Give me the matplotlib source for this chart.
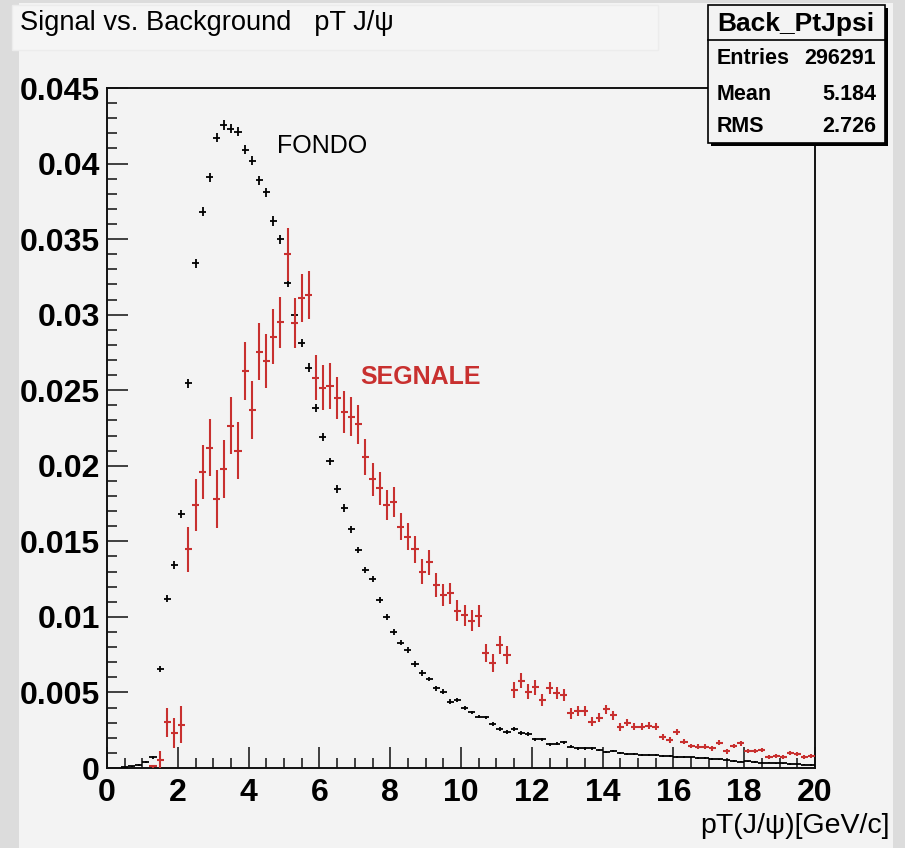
import numpy as np
import matplotlib.pyplot as plt
from matplotlib.patches import Rectangle
from matplotlib.ticker import MultipleLocator, FuncFormatter

# pT(J/psi) histograms, 100 bins of 0.2 GeV/c from 0 to 20, normalised to unit area
bin_centers = np.arange(0.1, 20.0, 0.2)

# background (FONDO)
bkg = [
    0.0, 0.0, 0.00005, 0.0001, 0.0002, 0.0004, 0.0007, 0.00655, 0.0112, 0.01345,
    0.0168, 0.02546, 0.0334, 0.0368, 0.0391, 0.0417, 0.04255, 0.0423, 0.0421, 0.0409,
    0.0402, 0.0389, 0.0381, 0.0362, 0.0350, 0.0321, 0.0300, 0.0281, 0.0265, 0.0238,
    0.0219, 0.0203, 0.01846, 0.0172, 0.0158, 0.0144, 0.0131, 0.01249, 0.0111, 0.00997,
    0.0090, 0.0083, 0.0078, 0.00688, 0.0063, 0.0059, 0.00527, 0.00505, 0.0044, 0.0045,
    0.00395, 0.00368, 0.0034, 0.00335, 0.0029, 0.0026, 0.0024, 0.0026, 0.0023, 0.00225,
    0.0019, 0.0019, 0.00157, 0.0016, 0.0017, 0.0014, 0.0013, 0.0013, 0.0013, 0.0012,
    0.00105, 0.0011, 0.0010, 0.00092, 0.0009, 0.00086, 0.00088, 0.00084, 0.0008, 0.0008,
    0.00072, 0.00074, 0.0007, 0.00066, 0.00068, 0.0006, 0.00057, 0.0005, 0.00045, 0.00042,
    0.00044, 0.0004, 0.00036, 0.00035, 0.0003, 0.0003, 0.00026, 0.00024, 0.00022, 0.0002,
]
bkg_err = [
    0.0, 0.0, 0.00003, 0.00004, 0.00005, 0.00006, 0.0001, 0.0002, 0.00024, 0.00026,
    0.00027, 0.00028, 0.0003, 0.0003, 0.0003, 0.0003, 0.0003, 0.0003, 0.0003, 0.0003,
    0.0003, 0.0003, 0.0003, 0.0003, 0.0003, 0.00027, 0.00027, 0.00027, 0.00027, 0.00027,
    0.00024, 0.00024, 0.00024, 0.00024, 0.00024, 0.0002, 0.0002, 0.0002, 0.0002, 0.0002,
    0.00018, 0.00018, 0.00018, 0.00018, 0.00018, 0.00015, 0.00015, 0.00015, 0.00015, 0.00015,
    0.00012, 0.00012, 0.00012, 0.00012, 0.00012, 0.00012, 0.00012, 0.00012, 0.00012, 0.00012,
    0.00009, 0.00009, 0.00009, 0.00009, 0.00009, 0.00009, 0.00009, 0.00009, 0.00009, 0.00009,
    0.00006, 0.00006, 0.00006, 0.00006, 0.00006, 0.00006, 0.00006, 0.00006, 0.00006, 0.00006,
    0.00006, 0.00006, 0.00006, 0.00006, 0.00006, 0.00005, 0.00005, 0.00005, 0.00005, 0.00005,
    0.00005, 0.00005, 0.00005, 0.00005, 0.00005, 0.00005, 0.00005, 0.00005, 0.00005, 0.00005,
]

# signal (SEGNALE)
sig = [
    0.0, 0.0, 0.0, 0.0, 0.0, 0.0, 0.0001, 0.00053, 0.00302, 0.00234,
    0.00287, 0.01447, 0.0174, 0.0196, 0.0212, 0.0178, 0.0198, 0.02265, 0.0210, 0.02627,
    0.0237, 0.02755, 0.02695, 0.02855, 0.0295, 0.0340, 0.02943, 0.0311, 0.0313, 0.02583,
    0.02517, 0.02528, 0.02447, 0.02356, 0.02324, 0.02275, 0.0206, 0.0191, 0.0185, 0.0174,
    0.01762, 0.01597, 0.0153, 0.01447, 0.0130, 0.0136, 0.0121, 0.01145, 0.01156, 0.0104,
    0.0101, 0.00975, 0.01006, 0.00759, 0.00693, 0.00814, 0.00748, 0.00516, 0.00578, 0.00505,
    0.00534, 0.0045, 0.00527, 0.00498, 0.00483, 0.00362, 0.00377, 0.00376, 0.00306, 0.00333,
    0.00388, 0.0035, 0.00273, 0.0030, 0.00273, 0.00273, 0.0028, 0.00273, 0.00207, 0.00185,
    0.0024, 0.00174, 0.00146, 0.0014, 0.0014, 0.0013, 0.00168, 0.0011, 0.00146, 0.00163,
    0.0011, 0.00113, 0.0012, 0.00075, 0.0008, 0.00075, 0.0010, 0.0009, 0.0007, 0.0008,
]
sig_err = [
    0.0, 0.0, 0.0, 0.0, 0.0, 0.0, 0.0001, 0.0006, 0.00096, 0.0010,
    0.0012, 0.0015, 0.0017, 0.0018, 0.0019, 0.0019, 0.0019, 0.0019, 0.0019, 0.0019,
    0.0019, 0.0019, 0.0018, 0.0018, 0.0017, 0.00175, 0.00165, 0.0016, 0.0016, 0.0015,
    0.0015, 0.0015, 0.0014, 0.0014, 0.0013, 0.0013, 0.0012, 0.0011, 0.0011, 0.0010,
    0.0010, 0.0009, 0.0009, 0.0009, 0.0008, 0.0008, 0.0008, 0.0007, 0.0007, 0.0007,
    0.0007, 0.0007, 0.0007, 0.0006, 0.0006, 0.0006, 0.0006, 0.0005, 0.0005, 0.0005,
    0.0005, 0.0004, 0.0004, 0.0004, 0.0004, 0.00035, 0.00035, 0.00035, 0.0003, 0.0003,
    0.0003, 0.0003, 0.00025, 0.00025, 0.00022, 0.00022, 0.00022, 0.00022, 0.0002, 0.0002,
    0.0002, 0.00018, 0.00016, 0.00016, 0.00016, 0.00015, 0.00015, 0.00015, 0.00015, 0.00015,
    0.00014, 0.00014, 0.00014, 0.00013, 0.00013, 0.00013, 0.00013, 0.00013, 0.00013, 0.00013,
]

x_ticks = [0, 2, 4, 6, 8, 10, 12, 14, 16, 18, 20]
y_ticks = [0, 0.005, 0.01, 0.015, 0.02, 0.025, 0.03, 0.035, 0.04, 0.045]

entries = 296291
mean_pt = 5.184
rms_pt = 2.726

W, H = 905, 848
BG = "#f3f3f3"
RED = "#c8302f"


def fx(px):
    return px / W


def fy(py):
    return 1 - py / H


plt.rcParams["font.family"] = ["Liberation Sans", "DejaVu Sans"]

fig = plt.figure(figsize=(W / 100, H / 100), dpi=100, facecolor=BG)

# window border strips
for x0, y0, w, h in [(0, 0, 19, H), (893, 0, 12, H), (0, 0, W, 3)]:
    fig.add_artist(Rectangle((fx(x0), fy(y0 + h)), w / W, h / H,
                             transform=fig.transFigure, facecolor="#dcdcdc",
                             edgecolor="none", zorder=0))

# title box
fig.add_artist(Rectangle((fx(12), fy(50)), 646 / W, 45 / H, transform=fig.transFigure,
                         facecolor="#f5f5f5", edgecolor="#ececec", lw=1, zorder=1))
fig.text(fx(20), fy(23), "Signal vs. Background   pT J/\u03c8", fontsize=19.6,
         ha="left", va="center", zorder=2)

ax = fig.add_axes([fx(107), fy(768), 708 / W, 680 / H])
ax.set_facecolor(BG)

x = np.array(bin_centers)
b = np.array(bkg)
s = np.array(sig)
mb = b > 0
ms = s > 0

ax.errorbar(x[mb], b[mb], xerr=0.1, yerr=np.array(bkg_err)[mb], fmt="none",
            ecolor="black", elinewidth=1.3, capsize=0, zorder=3)
ax.errorbar(x[ms], s[ms], xerr=0.1, yerr=np.array(sig_err)[ms], fmt="none",
            ecolor=RED, elinewidth=1.5, capsize=0, zorder=4)

ax.set_xlim(0, 20)
ax.set_ylim(0, 0.045)
ax.set_xticks(x_ticks)
ax.set_yticks(y_ticks)
ax.xaxis.set_minor_locator(MultipleLocator(0.5))
ax.yaxis.set_minor_locator(MultipleLocator(0.001))
ax.xaxis.set_major_formatter(FuncFormatter(lambda v, p: "%g" % v))
ax.yaxis.set_major_formatter(FuncFormatter(lambda v, p: "%g" % v))

ax.tick_params(which="both", direction="in", top=False, right=False, width=1.2,
               color="#222222")
ax.tick_params(which="major", length=15)
ax.tick_params(which="minor", length=7.5)
ax.tick_params(axis="y", which="major", pad=5, labelsize=23)
ax.tick_params(axis="x", which="major", pad=7, labelsize=23)
for lab in ax.get_xticklabels() + ax.get_yticklabels():
    lab.set_fontweight("bold")
for sp in ax.spines.values():
    sp.set_linewidth(1.4)
    sp.set_color("#111111")

ax.text(6.07, 0.04116, "FONDO", fontsize=18, ha="center", va="center", color="black")
ax.text(8.87, 0.02588, "SEGNALE", fontsize=18, fontweight="bold", ha="center",
        va="center", color=RED)

fig.text(fx(890), fy(826), "pT(J/\u03c8)[GeV/c]", fontsize=20.5, ha="right", va="center")

# statistics box
fig.add_artist(Rectangle((fx(711), fy(146)), 177 / W, 138 / H, transform=fig.transFigure,
                         facecolor="black", edgecolor="none", zorder=5))
fig.add_artist(Rectangle((fx(708), fy(143)), 177 / W, 138 / H, transform=fig.transFigure,
                         facecolor=BG, edgecolor="black", lw=1.2, zorder=6))
fig.add_artist(plt.Line2D([fx(708), fx(885)], [fy(40), fy(40)], transform=fig.transFigure,
                          color="black", lw=1.2, zorder=7))
fig.text(fx(796), fy(24), "Back_PtJpsi", fontsize=19, fontweight="bold",
         ha="center", va="center", zorder=8)
stats = [("Entries", "%d" % entries, 59), ("Mean", "%.3f" % mean_pt, 94),
         ("RMS", "%.3f" % rms_pt, 127)]
for name, val, py in stats:
    fig.text(fx(717), fy(py), name, fontsize=15.5, fontweight="bold",
             ha="left", va="center", zorder=8)
    fig.text(fx(876), fy(py), val, fontsize=15.5, fontweight="bold",
             ha="right", va="center", zorder=8)

fig.savefig("out.png", dpi=100, facecolor=BG)
